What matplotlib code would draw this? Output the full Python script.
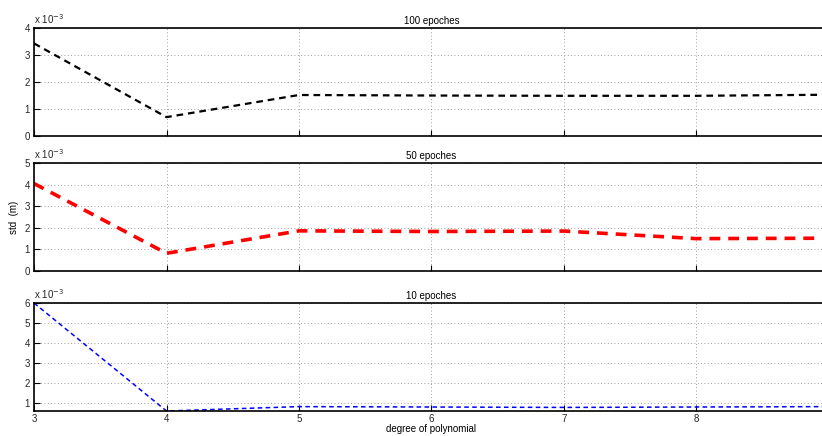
import numpy as np
import matplotlib
matplotlib.use('Agg')
import matplotlib.pyplot as plt
from matplotlib.ticker import MultipleLocator, FuncFormatter

# degree of polynomial vs. std of residuals (m)
degrees = [3, 4, 5, 6, 7, 8, 9]
std_100 = [3.43e-3, 0.70e-3, 1.52e-3, 1.50e-3, 1.49e-3, 1.49e-3, 1.53e-3]
std_50 = [4.05e-3, 0.82e-3, 1.86e-3, 1.83e-3, 1.85e-3, 1.50e-3, 1.52e-3]
std_10 = [6.00e-3, 0.60e-3, 0.82e-3, 0.80e-3, 0.78e-3, 0.80e-3, 0.82e-3]
xtick_vals = [3, 4, 5, 6, 7, 8]

plt.rcParams['font.family'] = ['Liberation Sans', 'DejaVu Sans']
plt.rcParams['font.size'] = 7

fig = plt.figure(figsize=(8.22, 4.36), dpi=100)

left, width, height = 0.0414, 0.967, 0.2477
panels = [
    (0.688, std_100, 'k', 1.6, '100 epoches', (0, 4e-3)),
    (0.3784, std_50, 'r', 2.6, '50 epoches', (0, 5e-3)),
    (0.0573, std_10, 'b', 1.1, '10 epoches', (0.6e-3, 6e-3)),
]

axes = []
for bottom, vals, col, lw, title, ylim in panels:
    ax = fig.add_axes([left, bottom, width, height])
    ax.plot(degrees, vals, '--', color=col, linewidth=lw, dashes=(3, 2.2))
    ax.set_xlim(3, 9)
    ax.set_ylim(*ylim)
    ax.set_xticks(xtick_vals)
    ax.yaxis.set_major_locator(MultipleLocator(1e-3))
    ax.yaxis.set_major_formatter(FuncFormatter(lambda v, p: '%d' % round(v * 1e3)))
    ax.grid(True, linestyle=(0, (1, 3)), color='0.5', linewidth=0.6)
    ax.tick_params(direction='in', length=4, width=0.8, labelsize=7,
                   labelcolor='0.15')
    ax.tick_params(axis='y', pad=3)
    ax.tick_params(axis='x', pad=2)
    for s in ax.spines.values():
        s.set_linewidth(1.2)
    ax.set_title(title, fontsize=7, pad=3)
    ax.text(0, 1.015, 'x 10$^{-3}$', transform=ax.transAxes, fontsize=7,
            ha='left', va='bottom', color='0.15')
    axes.append(ax)

for ax in axes[:2]:
    ax.tick_params(labelbottom=False)

axes[1].set_ylabel('std  (m)', fontsize=7, labelpad=4)
axes[2].set_xlabel('degree of polynomial', fontsize=7, labelpad=0)

fig.savefig('out.png', dpi=100)
